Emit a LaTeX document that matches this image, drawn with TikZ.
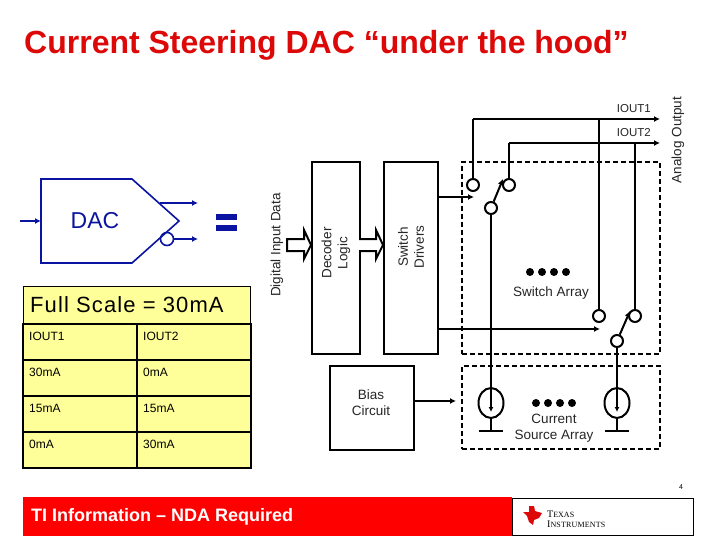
\documentclass[tikz,border=0pt]{standalone}
\usepackage{fontspec}
\setmainfont{Liberation Sans}
\newfontfamily\logofont{Liberation Serif}
\usetikzlibrary{arrows.meta, shapes.geometric}
\definecolor{dacblue}{HTML}{0A14A0}
\definecolor{tableyellow}{HTML}{FFFF99}
\definecolor{tired}{HTML}{FF0000}
\definecolor{titlered}{HTML}{DD0808}
\tikzset{
  wire/.style={line width=2pt},
  arrowwire/.style={wire, -{Latex[length=6pt,width=6pt]}},
  dacwire/.style={line width=1.6pt, dacblue, -{Latex[length=6pt,width=6pt]}},
  blockbox/.style={draw, line width=2pt, inner sep=0pt, anchor=north west},
  dashbox/.style={draw, line width=2pt, dash pattern=on 5pt off 3pt, inner sep=0pt, anchor=north west},
  contact/.style={circle, draw, line width=2pt, fill=white, minimum size=12pt, inner sep=0pt},
  source/.style={ellipse, draw, line width=2pt, fill=white, minimum width=25pt, minimum height=30pt, inner sep=0pt},
  dotmark/.style={circle, fill=black, minimum size=8pt, inner sep=0pt},
  cell/.style={draw, line width=2pt, fill=tableyellow, inner sep=0pt, anchor=north west, minimum height=36pt},
  celltext/.style={font=\fontsize{12}{14}\selectfont, anchor=west, inner sep=0pt},
  label/.style={font=\fontsize{13.5}{16}\selectfont, align=center, inner sep=0pt, text=black!85},
  hollowbus/.style={draw, line width=2pt, fill=white},
}
\begin{document}
\begin{tikzpicture}[x=1pt, y=-1pt]

  \useasboundingbox (0,0) rectangle (720,540);
  \fill[white] (0,0) rectangle (720,540);

  % -- Title --
  \node[anchor=base west, inner sep=0pt, text=titlered, font=\fontsize{32}{38}\selectfont\bfseries] (title) at (24,54) {Current Steering DAC “under the hood”};

  % -- DAC symbol --
  \coordinate (dacin) at (20,221);
  \coordinate (dactl) at (41,179);
  \coordinate (dactr) at (132,179);
  \coordinate (dactip) at (179,221);
  \coordinate (dacbr) at (132,263);
  \coordinate (dacbl) at (41,263);
  \coordinate (dacleft) at (41,221);
  \coordinate (dactop) at (160,203);
  \coordinate (dacout) at (198,203);
  \coordinate (dacoutb) at (198,239);
  \draw[line width=1.6pt, dacblue, line join=miter] (dactl) -- (dactr) -- (dactip) -- (dacbr) -- (dacbl) -- cycle;
  \node[font=\fontsize{23}{26}\selectfont, text=dacblue, inner sep=0pt] (daclabel) at (95,221) {DAC};
  \draw[dacwire] (dacin) -- (dacleft);
  \draw[dacwire] (dactop) -- (dacout);
  \node[circle, draw=dacblue, line width=1.6pt, minimum size=13pt, inner sep=0pt] (dacbubble) at (167,239) {};
  \draw[dacwire] (dacbubble) -- (dacoutb);
  \fill[dacblue] (216,214) rectangle (237,220);
  \fill[dacblue] (216,225) rectangle (237,231);

  % -- Full scale table --
  \node[draw, fill=tableyellow, line width=0.5pt, anchor=north west, inner sep=0pt, minimum width=227pt, minimum height=37pt] (fullscale) at (23,286) {};
  \node[anchor=base west, inner sep=0pt, font=\fontsize{22}{26}\selectfont\addfontfeature{LetterSpace=5}] (fulltext) at (30,312) {Full Scale = 30mA};
  \foreach \rowname/\rowy/\lefttext/\righttext in {a/323/IOUT1/IOUT2, b/359/30mA/0mA, c/395/15mA/15mA, d/431/0mA/30mA} {
    \node[cell, minimum width=114pt] (cell\rowname l) at (22,\rowy) {};
    \node[cell, minimum width=114pt] (cell\rowname r) at (136,\rowy) {};
    \node[celltext] (text\rowname l) at (29,\rowy+13) {\lefttext};
    \node[celltext] (text\rowname r) at (143,\rowy+13) {\righttext};
  }

  % -- Blocks --
  \node[blockbox, minimum width=48pt, minimum height=192pt] (decoder) at (311,161) {};
  \node[blockbox, minimum width=54pt, minimum height=192pt] (drivers) at (383,161) {};
  \node[blockbox, minimum width=84pt, minimum height=84pt] (bias) at (329,365) {};
  \node[label, rotate=90] (decodertext) at (336,253) {Decoder\\Logic};
  \node[label, rotate=90] (driverstext) at (411,247) {Switch\\Drivers};
  \node[label] (biastext) at (371,403) {Bias\\Circuit};
  \node[label, rotate=90] (digitaltext) at (277,245) {Digital Input Data};
  \node[label, rotate=90] (analogtext) at (678,140) {Analog Output};

  % -- Bus arrows --
  \draw[hollowbus] (287,239) -- (304,239) -- (304,230) -- (311,245) -- (304,259) -- (304,251) -- (287,251) -- cycle;
  \draw[hollowbus] (359,239) -- (376,239) -- (376,230) -- (383,245) -- (376,259) -- (376,251) -- (359,251);

  % -- Switch and source frames --
  \node[dashbox, minimum width=198pt, minimum height=192pt] (switcharray) at (461,161) {};
  \node[dashbox, minimum width=198pt, minimum height=83pt] (sourcearray) at (461,365) {};

  % -- Output rails --
  \coordinate (railone) at (473,119);
  \coordinate (railtwo) at (509,143);
  \coordinate (railoneend) at (660,119);
  \coordinate (railtwoend) at (660,143);
  \coordinate (tapone) at (599,119);
  \coordinate (taptwo) at (635,143);
  \draw[arrowwire] (railone) -- (railoneend);
  \draw[arrowwire] (railtwo) -- (railtwoend);
  \node[label, anchor=east, font=\fontsize{11.5}{14}\selectfont] (ioutone) at (651,109) {IOUT1};
  \node[label, anchor=east, font=\fontsize{11.5}{14}\selectfont] (iouttwo) at (651,133) {IOUT2};

  % -- Left switch and source --
  \node[source] (sourcea) at (491,403) {};
  \node[source] (sourceb) at (617,403) {};
  \node[contact] (conta) at (473,185) {};
  \node[contact] (contb) at (509,185) {};
  \node[contact] (wipera) at (491,208) {};
  \draw[wire] (wipera) -- (sourcea.north);
  \draw[wire] (railone) -- (conta);
  \draw[wire] (railtwo) -- (contb);
  \coordinate (tipa) at (503,179);
  \draw[wire, -{Latex[length=6pt,width=6pt]}] (wipera) -- (tipa);

  % -- Right switch --
  \node[contact] (contc) at (599,316) {};
  \node[contact] (contd) at (635,316) {};
  \node[contact] (wiperb) at (617,341) {};
  \draw[wire] (wiperb) -- (sourceb.north);
  \draw[wire] (tapone) -- (contc);
  \draw[wire] (taptwo) -- (contd);
  \coordinate (tipb) at (630,311);
  \draw[wire, -{Latex[length=6pt,width=6pt]}] (wiperb) -- (tipb);

  % -- Control and bias arrows --
  \coordinate (drivea) at (437,197);
  \coordinate (driveb) at (437,329);
  \coordinate (driveaend) at (474,197);
  \coordinate (drivebend) at (600,329);
  \coordinate (biasout) at (413,401);
  \coordinate (biasend) at (456,401);
  \draw[arrowwire] (drivea) -- (driveaend);
  \draw[arrowwire] (driveb) -- (drivebend);
  \draw[arrowwire] (biasout) -- (biasend);

  % -- Source details --
  \foreach \srcname/\srcx in {sourcea/491, sourceb/617} {
    \draw[wire, -{Latex[length=5pt,width=5pt]}] (\srcname.north) -- (\srcx,412);
    \draw[wire] (\srcname.south) -- (\srcx,431);
    \draw[wire] (\srcx-12,431) -- (\srcx+12,431);
  }

  % -- Dots and array labels --
  \foreach \dotx in {530,542,554,566} \node[dotmark] at (\dotx,272) {};
  \foreach \dotx in {536,548,560,572} \node[dotmark] at (\dotx,403) {};
  \node[label] (switchtext) at (551,293) {Switch Array};
  \node[label] (sourcetext) at (554,428) {Current\\Source Array};

  % -- Footer --
  \node[font=\fontsize{7}{8}\selectfont, inner sep=0pt] (pagenum) at (681,487) {4};
  \node[draw, line width=0.8pt, anchor=north west, inner sep=0pt, minimum width=181pt, minimum height=37pt] (logobox) at (512,498) {};
  \node[fill=tired, anchor=north west, inner sep=0pt, minimum width=489pt, minimum height=39pt] (redbar) at (23,497) {};
  \node[anchor=west, inner sep=0pt, text=white, font=\fontsize{18}{21}\selectfont\bfseries] (redtext) at (31,517) {TI Information – NDA Required};

  % -- Logo --
  \fill[titlered] (523,512) -- (529,512) -- (529,506) -- (534,506) -- (535,511) -- (542,513) -- (539,518) -- (534,520) -- (533,525) -- (529,522) -- (527,516) -- cycle;
  \node[anchor=base west, inner sep=0pt, font=\logofont\fontsize{10}{11}\selectfont] (logoa) at (547,517) {T{\fontsize{8}{9}\selectfont EXAS}};
  \node[anchor=base west, inner sep=0pt, font=\logofont\fontsize{10}{11}\selectfont\addfontfeature{LetterSpace=2}] (logob) at (547,527) {I{\fontsize{8}{9}\selectfont NSTRUMENTS}};

\end{tikzpicture}
\end{document}
